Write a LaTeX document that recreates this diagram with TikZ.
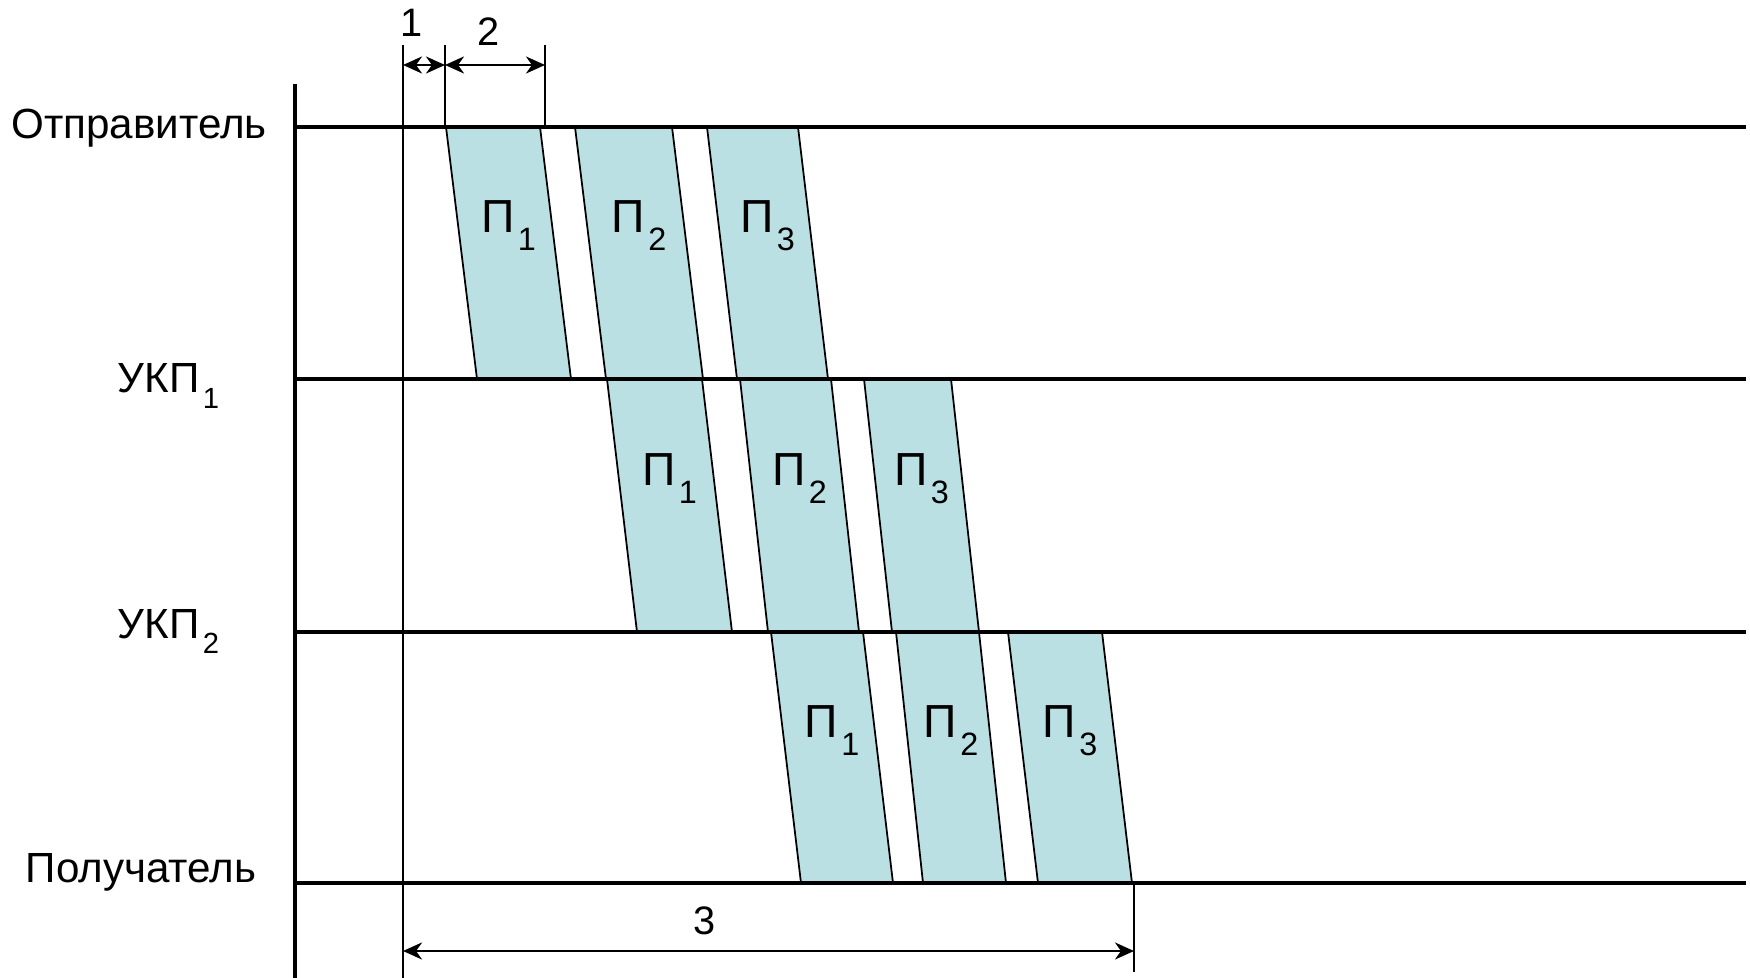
\documentclass[tikz,border=0pt]{standalone}
\usepackage{fontspec}
\setmainfont{Liberation Sans}
\usepackage{tikz}
\usetikzlibrary{arrows.meta,calc}
\usepackage{xcolor}
\definecolor{cPack}{RGB}{187,224,228}
\tikzset{
  axisline/.style={line width=1.1pt},
  guideline/.style={line width=0.8pt},
  packbox/.style={fill=cPack,draw=black,line width=0.5pt},
  packlabel/.style={anchor=base,inner sep=0pt,font=\fontsize{13.2}{15}\selectfont},
  sidelabel/.style={anchor=base,inner sep=0pt,font=\fontsize{12}{14}\selectfont},
  dimlabel/.style={anchor=base,inner sep=0pt,font=\fontsize{11.3}{13}\selectfont},
  dimarr/.style={<->,>={Stealth[length=1.9mm,width=1.7mm,inset=0.6mm]},line width=0.8pt}
}
\newcommand{\pksub}[1]{\kern1pt\raisebox{-5pt}{\fontsize{9.2}{10}\selectfont #1}}
\newcommand{\ukpsub}[1]{\kern1pt\raisebox{-4.3pt}{\fontsize{8.3}{9}\selectfont #1}}

\begin{document}
\begin{tikzpicture}[x=0.1mm,y=-0.1mm]
  \useasboundingbox (0,0) rectangle (1750,978);

  % Packets between the nodes
  \foreach \xa/\xb/\ya/\yb/\sl/\n in {
      446/540/127/379/31/1, 575/672/127/379/31/2, 707/798/127/379/30/3,
      607/702/379/632/30/1, 740/831/379/632/28/2, 864/951/379/632/28/3,
      771/863/632/883/30/1, 896/979/632/883/27/2, 1008/1102/632/883/30/3}{
    \filldraw[packbox] (\xa,\ya) -- (\xb,\ya) -- (\xb+\sl,\yb) -- (\xa+\sl,\yb) -- cycle;
    \node[packlabel] at (\xa/2+\xb/2+\sl/2,\ya/2+\yb/2-20) {П\pksub{\n}};
  }

  % Time axis and guide lines
  \coordinate (t0) at (403,65);
  \coordinate (t1) at (445,65);
  \coordinate (t2) at (545,65);
  \coordinate (b0) at (403,951);
  \coordinate (b1) at (1134,951);
  \draw[axisline] (295,84) -- (295,978);
  \draw[guideline] (403,45) -- (403,978);
  \draw[guideline] (445,45) -- (445,127);
  \draw[guideline] (545,45) -- (545,127);
  \draw[guideline] (1134,883) -- (1134,972);

  % Node lines
  \foreach \y in {127,379,632,883}
    \draw[axisline] (295,\y) -- (1746,\y);

  % Node names
  \node[sidelabel] (lblSender) at (139,139) {Отправитель};
  \node[sidelabel,anchor=base west] (lblUkpA) at (117,393) {УКП\ukpsub{1}};
  \node[sidelabel,anchor=base west] (lblUkpB) at (117,638) {УКП\ukpsub{2}};
  \node[sidelabel] (lblReceiver) at (141,882) {Получатель};

  % Dimensions
  \draw[dimarr] (t0) -- (t1);
  \draw[dimarr] (t1) -- (t2);
  \draw[dimarr] (b0) -- (b1);
  \node[dimlabel] (dimA) at (412,37) {1};
  \node[dimlabel] (dimB) at (489,46) {2};
  \node[dimlabel] (dimC) at (705,934) {3};

\end{tikzpicture}
\end{document}
